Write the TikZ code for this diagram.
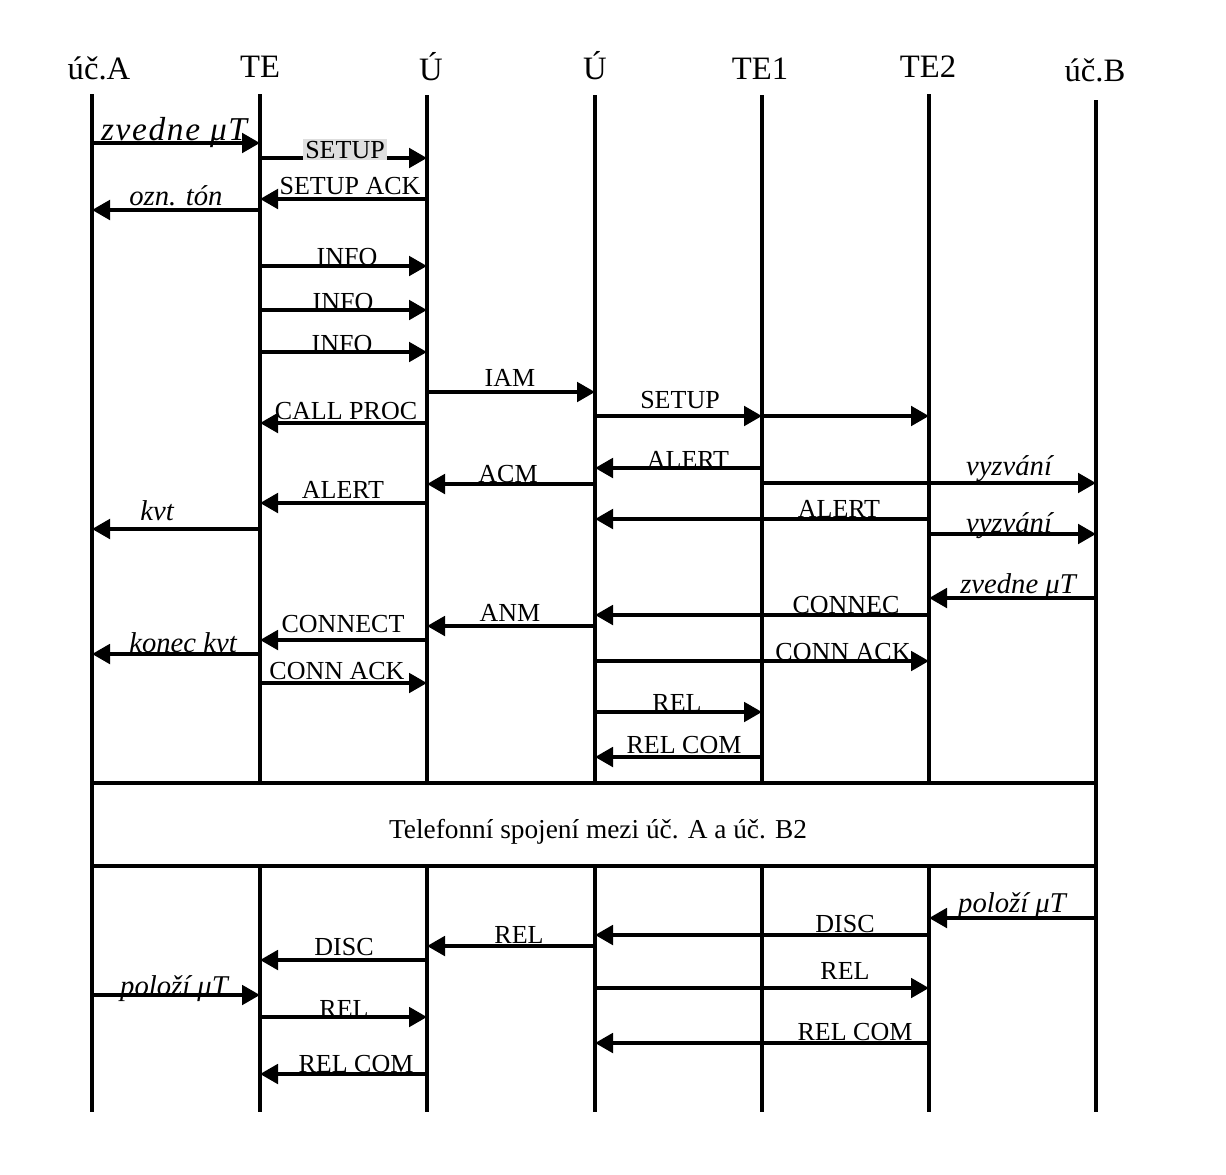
\documentclass[tikz,border=0pt]{standalone}
\usepackage{fontspec}
\setmainfont{Liberation Serif}
\usetikzlibrary{arrows.meta}
\tikzset{
  life/.style={line width=3pt},
  msg/.style={line width=3pt,-{Triangle[length=13.5pt,width=14.5pt]}},
  hdr/.style={inner sep=0pt,anchor=base,font=\fontsize{24.5}{28}\selectfont},
  lbl/.style={inner sep=0pt,anchor=base,font=\fontsize{19.5}{23}\selectfont},
  ilbl/.style={inner sep=0pt,anchor=base,font=\fontsize{21.5}{25}\selectfont\itshape},
  boxst/.style={line width=3pt,fill=white}
}
\begin{document}
\begin{tikzpicture}[x=0.75pt,y=-0.75pt]
\useasboundingbox (0,0) rectangle (1226,1174);
% lifelines
\coordinate (A) at (92,0);
\coordinate (T) at (260,0);
\coordinate (U1) at (427,0);
\coordinate (U2) at (595,0);
\coordinate (T1) at (762,0);
\coordinate (T2) at (929,0);
\coordinate (B) at (1096,0);
\foreach \n/\top in {A/94,T/94,U1/95,U2/95,T1/95,T2/94,B/100}{
  \coordinate (\n top) at (\n |- 0,\top);
  \coordinate (\n bot) at (\n |- 0,1112);
  \draw[life] (\n top) -- (\n bot);
}
% headers
\node[hdr] (hA) at (99,79) {úč.A};
\node[hdr] (hT) at (260,77) {TE};
\node[hdr] (hU1) at (431,80) {Ú};
\node[hdr] (hU2) at (595,79) {Ú};
\node[hdr] (hT1) at (760,79) {TE1};
\node[hdr] (hT2) at (928,77) {TE2};
\node[hdr] (hB) at (1095,81) {úč.B};

% messages
\draw[msg] (A|-0,143) -- (T|-0,143);
\node[ilbl,font=\fontsize{25}{29}\selectfont\itshape] (m1) at (174,140) {\addfontfeature{LetterSpace=5}zvedne μT};
\draw[msg] (T|-0,158) -- (U1|-0,158);
\node[lbl,fill=black!13,inner sep=1.5pt] (m2) at (345,158) {SETUP};
\draw[msg] (U1|-0,199) -- (T|-0,199);
\node[lbl] (m3) at (350,194) {SETUP ACK};
\draw[msg] (T|-0,210) -- (A|-0,210);
\node[ilbl] (m4) at (176,205) {ozn. tón};
\draw[msg] (T|-0,266) -- (U1|-0,266);
\node[lbl] (m5) at (347,265) {INFO};
\draw[msg] (T|-0,310) -- (U1|-0,310);
\node[lbl] (m6) at (343,310) {INFO};
\draw[msg] (T|-0,352) -- (U1|-0,352);
\node[lbl] (m7) at (342,352) {INFO};
\draw[msg] (U1|-0,392) -- (U2|-0,392);
\node[lbl] (m8) at (510,386) {IAM};
\draw[msg] (U1|-0,423) -- (T|-0,423);
\node[lbl] (m9) at (346,419) {CALL PROC};
\draw[msg] (U2|-0,416) -- (T1|-0,416);
\node[lbl] (m10) at (680,408) {SETUP};
\draw[msg] (T1|-0,416) -- (T2|-0,416);
\draw[msg] (T1|-0,468) -- (U2|-0,468);
\node[lbl] (m12) at (688,468) {ALERT};
\draw[msg] (U2|-0,484) -- (U1|-0,484);
\node[lbl] (m13) at (508,482) {ACM};
\draw[msg] (T1|-0,483) -- (B|-0,483);
\node[ilbl] (m14) at (1009,475) {vyzvání};
\draw[msg] (U1|-0,503) -- (T|-0,503);
\node[lbl] (m15) at (343,498) {ALERT};
\draw[msg] (T2|-0,519) -- (U2|-0,519);
\node[lbl] (m16) at (839,517) {ALERT};
\draw[msg] (T2|-0,534) -- (B|-0,534);
\node[ilbl] (m17) at (1009,532) {vyzvání};
\draw[msg] (T|-0,529) -- (A|-0,529);
\node[ilbl] (m18) at (157,520) {kvt};
\draw[msg] (B|-0,598) -- (T2|-0,598);
\node[ilbl] (m19) at (1018,593) {zvedne μT};
\draw[msg] (T2|-0,615) -- (U2|-0,615);
\node[lbl] (m20) at (846,613) {CONNEC};
\draw[msg] (U2|-0,626) -- (U1|-0,626);
\node[lbl] (m21) at (510,621) {ANM};
\draw[msg] (U1|-0,640) -- (T|-0,640);
\node[lbl] (m22) at (343,632) {CONNECT};
\draw[msg] (T|-0,654) -- (A|-0,654);
\node[ilbl] (m23) at (183,652) {konec kvt};
\draw[msg] (T|-0,683) -- (U1|-0,683);
\node[lbl] (m24) at (337,679) {CONN ACK};
\draw[msg] (U2|-0,661) -- (T2|-0,661);
\node[lbl] (m25) at (843,660) {CONN ACK};
\draw[msg] (U2|-0,712) -- (T1|-0,712);
\node[lbl] (m26) at (677,711) {REL};
\draw[msg] (T1|-0,757) -- (U2|-0,757);
\node[lbl] (m27) at (684,753) {REL COM};

% connection box
\draw[boxst] (92,783) rectangle (1096,866);
\node[lbl,font=\fontsize{20.5}{24}\selectfont] (box) at (598,838) {Telefonní spojení mezi úč. A a úč. B2};

% release
\draw[msg] (B|-0,918) -- (T2|-0,918);
\node[ilbl] (m28) at (1012,912) {položí μT};
\draw[msg] (T2|-0,935) -- (U2|-0,935);
\node[lbl] (m29) at (845,932) {DISC};
\draw[msg] (U2|-0,946) -- (U1|-0,946);
\node[lbl] (m30) at (519,943) {REL};
\draw[msg] (U1|-0,960) -- (T|-0,960);
\node[lbl] (m31) at (344,955) {DISC};
\draw[msg] (A|-0,995) -- (T|-0,995);
\node[ilbl] (m32) at (174,995) {položí μT};
\draw[msg] (U2|-0,988) -- (T2|-0,988);
\node[lbl] (m33) at (845,979) {REL};
\draw[msg] (T|-0,1017) -- (U1|-0,1017);
\node[lbl] (m34) at (344,1017) {REL};
\draw[msg] (T2|-0,1043) -- (U2|-0,1043);
\node[lbl] (m35) at (855,1040) {REL COM};
\draw[msg] (U1|-0,1074) -- (T|-0,1074);
\node[lbl] (m36) at (356,1072) {REL COM};
\end{tikzpicture}
\end{document}
